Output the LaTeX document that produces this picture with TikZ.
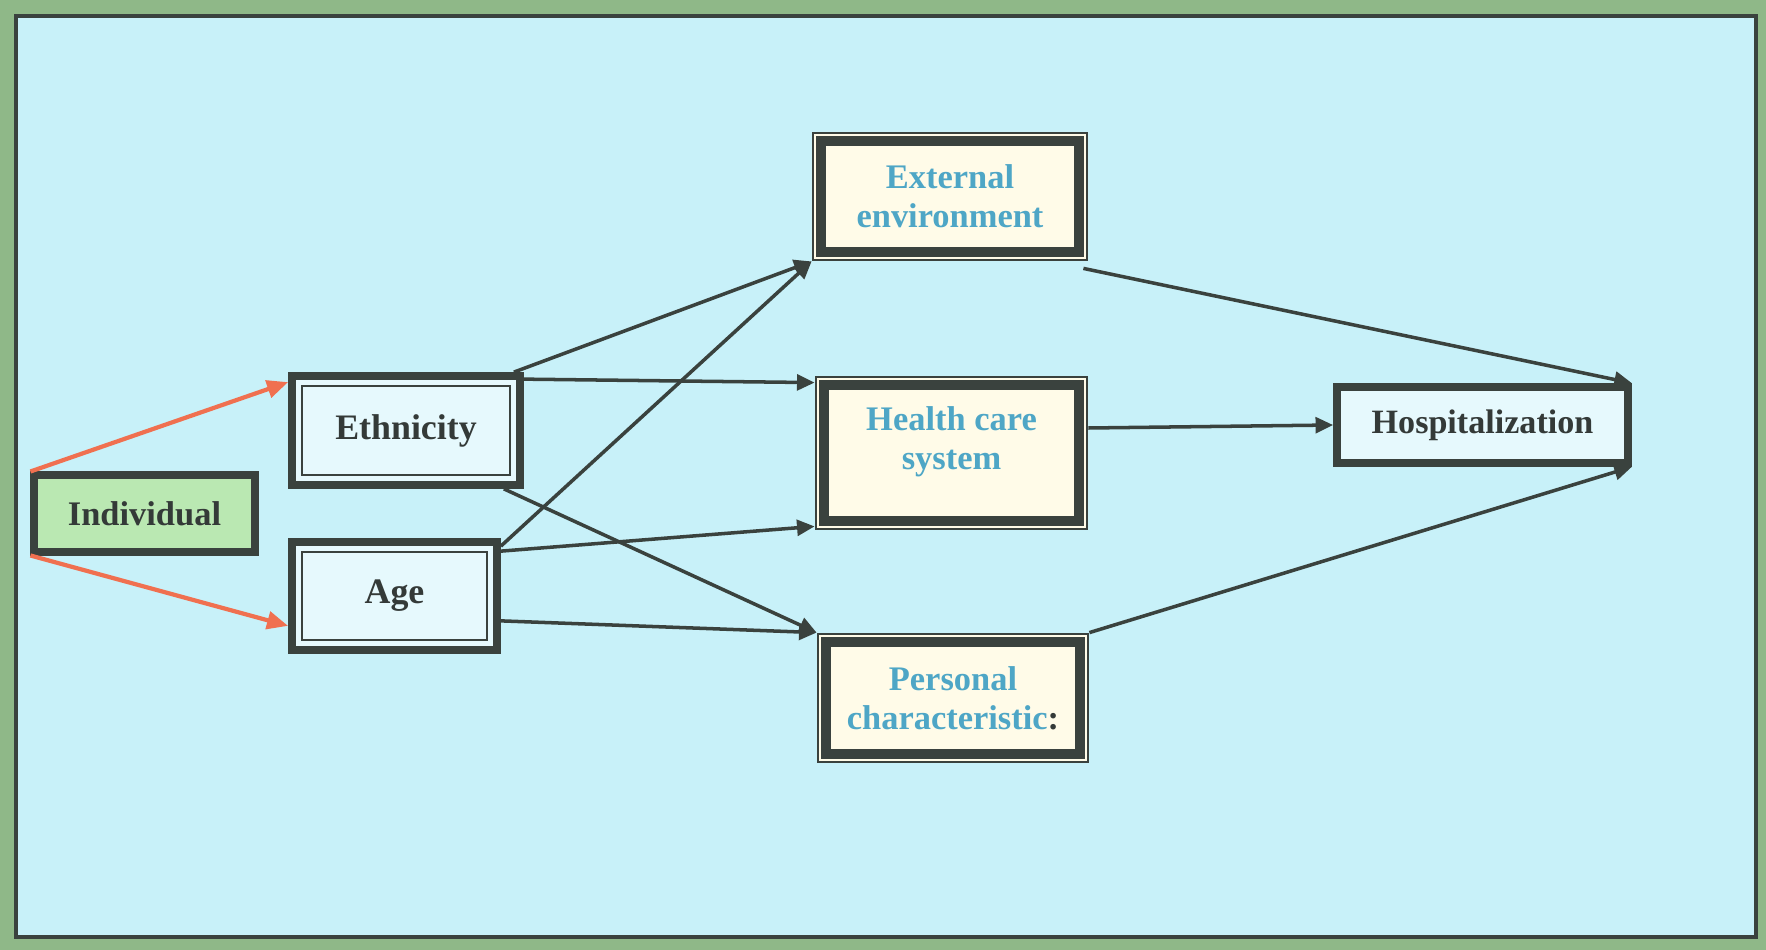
\documentclass[tikz,border=0pt]{standalone}
\usepackage{fontspec}
\setmainfont{Liberation Serif}
\usetikzlibrary{arrows.meta}

\definecolor{framegreen}{RGB}{143,184,136}
\definecolor{darkline}{RGB}{58,66,62}
\definecolor{skyback}{RGB}{200,241,249}
\definecolor{palefill}{RGB}{230,249,253}
\definecolor{creamfill}{RGB}{255,251,232}
\definecolor{indivfill}{RGB}{186,232,178}
\definecolor{bluetext}{RGB}{78,166,198}
\definecolor{darktext}{RGB}{52,58,56}
\definecolor{arrowred}{RGB}{240,112,80}

\tikzset{
  base/.style={rectangle, inner sep=0pt, align=center, text=darktext,
    font=\bfseries\fontsize{10.2}{12}\selectfont},
  greenbox/.style={base, draw=darkline, line width=2pt, fill=indivfill,
    font=\bfseries\fontsize{9.8}{12}\selectfont},
  doublebox/.style={base, draw=darkline, line width=2.2pt, fill=palefill,
    path picture={\draw[darkline, line width=0.8pt]
      ([shift={(0.1,0.1)}]path picture bounding box.south west) rectangle
      ([shift={(-0.1,-0.1)}]path picture bounding box.north east);}},
  factorbox/.style={base, draw=darkline, line width=0.8pt, fill=creamfill, text=bluetext,
    font=\bfseries\fontsize{9.8}{11}\selectfont,
    path picture={\draw[darkline, line width=2.6pt]
      ([shift={(0.08,0.08)}]path picture bounding box.south west) rectangle
      ([shift={(-0.08,-0.08)}]path picture bounding box.north east);}},
  outcomebox/.style={base, draw=darkline, line width=2.2pt, fill=palefill,
    font=\bfseries\fontsize{9.7}{12}\selectfont},
  link/.style={darkline, line width=1pt, -{Triangle[length=5pt,width=4.5pt]}},
  redlink/.style={arrowred, line width=1.2pt, -{Triangle[length=6pt,width=5pt]}},
}

\begin{document}
\begin{tikzpicture}
  \useasboundingbox (0,0) rectangle (17.66,-9.5);
  \fill[framegreen] (0,0) rectangle (17.66,-9.5);
  \draw[darkline, line width=1.3pt, fill=skyback] (0.16,-0.16) rectangle (17.56,-9.37);

  \node[greenbox, minimum width=2.21cm, minimum height=0.77cm] (indiv) at (1.445,-5.135) {Individual};
  \node[doublebox, minimum width=2.28cm, minimum height=1.09cm] (eth) at (4.06,-4.305) {Ethnicity};
  \node[doublebox, minimum width=2.05cm, minimum height=1.08cm] (age) at (3.945,-5.96) {Age};

  \node[factorbox, minimum width=2.74cm, minimum height=1.27cm] (ext) at (9.50,-1.965) {External\\environment};
  \node[factorbox, minimum width=2.71cm, minimum height=1.52cm, text depth=0.3cm] (hcs) at (9.515,-4.53) {Health care\\system};
  \node[factorbox, minimum width=2.70cm, minimum height=1.28cm] (pers) at (9.53,-6.98) {Personal\\characteristic{\color{darktext}:}};

  \node[outcomebox, minimum width=2.91cm, minimum height=0.76cm] (hosp) at (14.825,-4.25) {Hospitalization};

  \draw[redlink] (indiv.north west) -- ([yshift=-0.1cm]eth.north west);
  \draw[redlink] (indiv.south west) -- ([yshift=0.28cm]age.south west);

  \draw[link] ([xshift=-0.1cm]eth.north east) -- (ext.south west);
  \draw[link] ([yshift=-0.07cm]eth.north east) -- ([yshift=-0.07cm]hcs.north west);
  \draw[link] ([xshift=-0.2cm]eth.south east) -- (pers.north west);

  \draw[link] ([yshift=-0.08cm]age.north east) -- (ext.south west);
  \draw[link] ([yshift=-0.13cm]age.north east) -- ([yshift=0.04cm]hcs.south west);
  \draw[link] ([yshift=0.33cm]age.south east) -- (pers.north west);

  \draw[link] ([shift={(-0.05,-0.07)}]ext.south east) -- (hosp.north east);
  \draw[link] ([yshift=0.25cm]hcs.east) -- (hosp.west);
  \draw[link] (pers.north east) -- (hosp.south east);
\end{tikzpicture}
\end{document}
